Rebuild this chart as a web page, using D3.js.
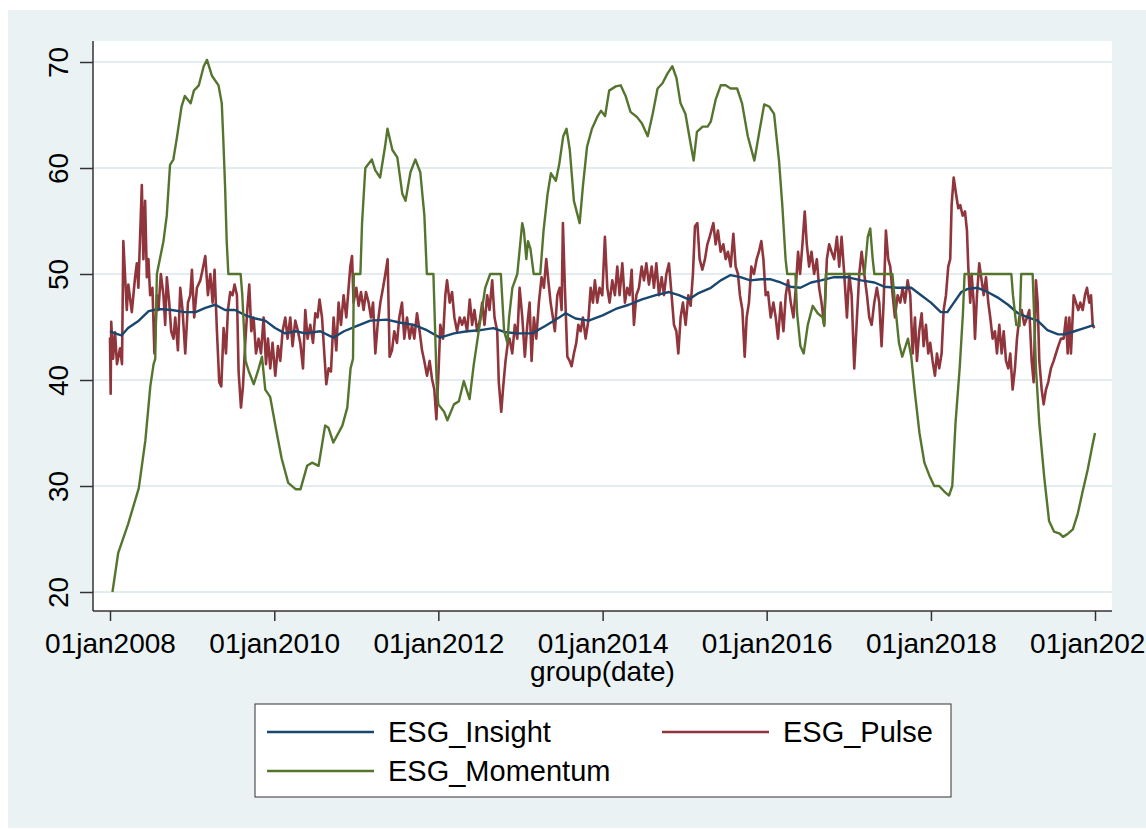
<!DOCTYPE html>
<html>
<head>
<meta charset="utf-8">
<script src="https://cdn.jsdelivr.net/npm/d3@7"></script>
<style>
  body { margin: 0; background: #ffffff; }
  text { font-family: 'Liberation Sans', Arial, sans-serif; fill: #000; }
</style>
</head>
<body>
<div id="chart"></div>
<script>
// values: [decimal year, value]
const insight = [
  [2008.00, 44.6], [2008.06, 44.4], [2008.14, 44.2], [2008.22, 44.9], [2008.35, 45.6], [2008.47, 46.5],
  [2008.59, 46.7], [2008.75, 46.6], [2008.91, 46.4], [2009.04, 46.4], [2009.16, 46.8], [2009.28, 47.1],
  [2009.40, 46.6], [2009.52, 46.6], [2009.65, 46.1], [2009.77, 45.8], [2009.89, 45.6], [2010.01, 44.9],
  [2010.13, 44.4], [2010.26, 44.6], [2010.38, 44.4], [2010.56, 44.6], [2010.72, 44.0], [2010.85, 44.6],
  [2011.01, 45.1], [2011.17, 45.6], [2011.37, 45.7], [2011.54, 45.4], [2011.70, 45.2], [2011.86, 44.7],
  [2012.02, 44.0], [2012.19, 44.4], [2012.35, 44.6], [2012.51, 44.7], [2012.67, 44.9], [2012.82, 44.5],
  [2012.98, 44.4], [2013.14, 44.4], [2013.30, 45.1], [2013.47, 45.9], [2013.55, 46.3], [2013.67, 45.8],
  [2013.83, 45.6], [2014.00, 46.1], [2014.16, 46.7], [2014.32, 47.1], [2014.48, 47.6], [2014.65, 48.0],
  [2014.81, 48.3], [2014.93, 48.0], [2015.05, 47.6], [2015.17, 48.2], [2015.32, 48.7], [2015.44, 49.4],
  [2015.56, 49.9], [2015.68, 49.7], [2015.80, 49.4], [2015.93, 49.5], [2016.05, 49.5], [2016.17, 49.2],
  [2016.29, 48.8], [2016.41, 48.7], [2016.54, 49.2], [2016.66, 49.4], [2016.82, 49.7], [2016.98, 49.7],
  [2017.15, 49.4], [2017.31, 49.2], [2017.43, 48.8], [2017.59, 48.7], [2017.76, 48.7], [2017.88, 48.0],
  [2018.00, 47.3], [2018.12, 46.4], [2018.20, 46.4], [2018.28, 47.3], [2018.37, 48.3], [2018.45, 48.6],
  [2018.57, 48.7], [2018.69, 48.3], [2018.81, 47.8], [2018.94, 47.1], [2019.06, 46.3], [2019.18, 45.9],
  [2019.30, 45.6], [2019.42, 44.7], [2019.55, 44.3], [2019.63, 44.3], [2019.75, 44.6], [2019.87, 44.9],
  [2019.99, 45.2]
];

const pulse = [
  [2008.000, 44], [2008.008, 38.7], [2008.015, 45.5], [2008.037, 42], [2008.061, 44.5], [2008.085, 41.5],
  [2008.122, 43], [2008.146, 41.5], [2008.162, 53.1], [2008.204, 46.6], [2008.223, 49], [2008.265, 46.4],
  [2008.305, 49.7], [2008.326, 51], [2008.345, 48.7], [2008.387, 58.4], [2008.406, 51.4], [2008.427, 56.9],
  [2008.448, 49.7], [2008.467, 51.4], [2008.488, 48], [2008.516, 48.7], [2008.540, 42.5], [2008.570, 48],
  [2008.589, 46.6], [2008.618, 50], [2008.650, 48], [2008.671, 45.2], [2008.691, 49.7], [2008.720, 47.3],
  [2008.744, 44.6], [2008.772, 43.9], [2008.793, 45.9], [2008.826, 42.8], [2008.854, 48.7], [2008.882, 46.6],
  [2008.915, 42.5], [2008.948, 47.3], [2008.976, 48], [2008.996, 50.4], [2009.024, 45.9], [2009.057, 48.7],
  [2009.098, 49.4], [2009.126, 50.4], [2009.159, 51.7], [2009.191, 48], [2009.220, 50], [2009.248, 47.3],
  [2009.272, 50.4], [2009.301, 44.6], [2009.329, 39.8], [2009.354, 39.4], [2009.382, 44.9], [2009.411, 42.5],
  [2009.435, 46.6], [2009.463, 48.3], [2009.491, 48], [2009.516, 49], [2009.545, 48], [2009.565, 40.8],
  [2009.594, 37.4], [2009.618, 39.4], [2009.646, 43.5], [2009.671, 46.6], [2009.695, 49], [2009.720, 44.6],
  [2009.748, 45.9], [2009.777, 42.5], [2009.809, 43.9], [2009.838, 42.5], [2009.870, 45.9], [2009.899, 41.5],
  [2009.923, 43.9], [2009.951, 41.1], [2009.979, 43.5], [2010.012, 40.4], [2010.045, 43.2], [2010.073, 41.8],
  [2010.101, 44.6], [2010.134, 45.9], [2010.162, 43.9], [2010.195, 45.9], [2010.223, 43.2], [2010.256, 45.6],
  [2010.289, 44.6], [2010.317, 43.5], [2010.350, 41.1], [2010.378, 46.6], [2010.406, 43.9], [2010.439, 45.2],
  [2010.472, 43.5], [2010.500, 46.3], [2010.528, 45.9], [2010.552, 47.6], [2010.582, 45.9], [2010.610, 42.5],
  [2010.634, 39.6], [2010.662, 41.1], [2010.691, 40.8], [2010.723, 45.9], [2010.756, 42.8], [2010.784, 47.3],
  [2010.813, 45.2], [2010.845, 48], [2010.878, 45.9], [2010.906, 48.7], [2010.927, 50.7], [2010.948, 51.7],
  [2010.967, 47.3], [2011.000, 48.7], [2011.028, 47], [2011.057, 48.3], [2011.089, 46.6], [2011.118, 48.3],
  [2011.150, 47.3], [2011.179, 45.9], [2011.204, 47.3], [2011.232, 42.5], [2011.260, 45.2], [2011.293, 47.3],
  [2011.326, 48.7], [2011.354, 50], [2011.382, 51.4], [2011.406, 42.2], [2011.435, 42.8], [2011.463, 44.6],
  [2011.496, 43.5], [2011.524, 45.9], [2011.557, 47.3], [2011.585, 43.9], [2011.618, 45.9], [2011.650, 43.9],
  [2011.679, 45.2], [2011.707, 43.9], [2011.740, 46.3], [2011.772, 44.6], [2011.801, 42.8], [2011.829, 41.8],
  [2011.862, 40.4], [2011.894, 41.8], [2011.923, 40.1], [2011.951, 39.1], [2011.976, 36.3], [2012.004, 41.1],
  [2012.024, 45.2], [2012.057, 43.9], [2012.085, 48], [2012.106, 49.4], [2012.138, 47.3], [2012.167, 48.3],
  [2012.195, 45.9], [2012.228, 44.6], [2012.260, 45.9], [2012.289, 45.2], [2012.317, 45.9], [2012.350, 44.6],
  [2012.382, 47.6], [2012.411, 45.2], [2012.439, 46.6], [2012.472, 44.6], [2012.504, 45.6], [2012.533, 47.3],
  [2012.561, 45.2], [2012.594, 48], [2012.622, 46.6], [2012.655, 49.4], [2012.683, 45.9], [2012.716, 44.6],
  [2012.735, 39.8], [2012.765, 37], [2012.789, 39.4], [2012.817, 41.8], [2012.845, 43.5], [2012.866, 43.9],
  [2012.899, 42.5], [2012.930, 45.2], [2012.960, 43.9], [2012.988, 48.7], [2013.021, 45.9], [2013.052, 42.2],
  [2013.082, 45.2], [2013.110, 47.3], [2013.134, 41.8], [2013.162, 45.9], [2013.191, 43.9], [2013.223, 47.3],
  [2013.256, 49.7], [2013.284, 48.7], [2013.313, 51.4], [2013.338, 49.4], [2013.366, 47.3], [2013.394, 45.9],
  [2013.418, 44.6], [2013.448, 48], [2013.476, 48.7], [2013.500, 46.6], [2013.516, 54.8], [2013.540, 48.7],
  [2013.570, 42.2], [2013.598, 41.8], [2013.622, 41.3], [2013.650, 42.5], [2013.679, 43.5], [2013.704, 45.2],
  [2013.732, 44.6], [2013.760, 45.9], [2013.793, 43.9], [2013.826, 45.6], [2013.854, 48.7], [2013.882, 47.3],
  [2013.906, 49.4], [2013.935, 47.3], [2013.963, 48.7], [2013.996, 48], [2014.028, 53.5], [2014.057, 48.7],
  [2014.085, 47.3], [2014.118, 49.4], [2014.150, 48], [2014.179, 50.7], [2014.207, 48], [2014.240, 51],
  [2014.272, 47.3], [2014.301, 48.7], [2014.329, 48], [2014.354, 50.4], [2014.382, 45.2], [2014.411, 48],
  [2014.443, 48.7], [2014.476, 50.7], [2014.504, 49.4], [2014.533, 51], [2014.565, 49], [2014.598, 50.7],
  [2014.626, 48.7], [2014.655, 51], [2014.687, 48], [2014.720, 49.7], [2014.748, 48], [2014.777, 50],
  [2014.809, 51], [2014.841, 48], [2014.870, 45.2], [2014.899, 44.6], [2014.923, 42.5], [2014.951, 45.9],
  [2014.979, 47.3], [2015.012, 45.2], [2015.045, 48], [2015.073, 47], [2015.101, 50], [2015.126, 54.5],
  [2015.155, 54.8], [2015.183, 51.4], [2015.216, 50.4], [2015.248, 51.4], [2015.277, 52.8], [2015.305, 53.5],
  [2015.350, 54.8], [2015.378, 52.8], [2015.406, 54.1], [2015.439, 52.1], [2015.472, 52.8], [2015.500, 51.4],
  [2015.528, 52.1], [2015.561, 50.7], [2015.594, 53.8], [2015.622, 50.7], [2015.650, 50], [2015.674, 48],
  [2015.704, 46.6], [2015.732, 42.2], [2015.756, 45.9], [2015.784, 47.3], [2015.813, 50.7], [2015.845, 50],
  [2015.878, 51.4], [2015.906, 52.1], [2015.935, 53.1], [2015.960, 51.4], [2015.988, 48], [2016.016, 48.3],
  [2016.049, 45.9], [2016.082, 47.3], [2016.110, 45.9], [2016.138, 43.9], [2016.171, 47.3], [2016.204, 44.6],
  [2016.232, 48], [2016.260, 49.4], [2016.293, 47.3], [2016.326, 45.9], [2016.354, 48.7], [2016.382, 52.1],
  [2016.406, 50], [2016.435, 52.8], [2016.463, 55.9], [2016.488, 52.8], [2016.516, 50.7], [2016.545, 52.1],
  [2016.577, 50], [2016.610, 51.4], [2016.638, 48.7], [2016.667, 47.3], [2016.699, 45.2], [2016.732, 51.4],
  [2016.760, 52.8], [2016.789, 52.1], [2016.821, 51.4], [2016.854, 53.5], [2016.882, 50.7], [2016.911, 53.5],
  [2016.943, 50], [2016.976, 45.9], [2017.004, 50], [2017.033, 48], [2017.065, 41.1], [2017.098, 45.9],
  [2017.126, 50], [2017.155, 52.1], [2017.187, 50], [2017.220, 48], [2017.248, 45.9], [2017.277, 45.2],
  [2017.309, 47.3], [2017.341, 48.7], [2017.370, 47.3], [2017.398, 43.2], [2017.423, 47.3], [2017.451, 54.1],
  [2017.479, 51.4], [2017.504, 50.7], [2017.533, 48], [2017.561, 45.9], [2017.594, 48], [2017.626, 47.3],
  [2017.655, 48.7], [2017.683, 47.3], [2017.716, 49.4], [2017.748, 48], [2017.777, 42.5], [2017.805, 45.9],
  [2017.829, 41.8], [2017.857, 44.6], [2017.887, 46.3], [2017.911, 43.2], [2017.939, 45.2], [2017.967, 42.5],
  [2017.991, 43.5], [2018.020, 41.8], [2018.049, 40.4], [2018.073, 42.5], [2018.101, 41.1], [2018.130, 42.5],
  [2018.155, 46.6], [2018.183, 48], [2018.211, 50.7], [2018.235, 51.4], [2018.252, 56.5], [2018.277, 59.1],
  [2018.305, 57.6], [2018.333, 56.2], [2018.357, 56.5], [2018.387, 55.5], [2018.415, 55.9], [2018.439, 54.1],
  [2018.455, 50.7], [2018.479, 47.3], [2018.496, 50], [2018.521, 47.3], [2018.537, 43.9], [2018.561, 48],
  [2018.589, 51], [2018.618, 49.4], [2018.643, 48], [2018.671, 49.7], [2018.699, 47.3], [2018.723, 45.9],
  [2018.752, 43.9], [2018.780, 44.6], [2018.805, 42.5], [2018.833, 45.2], [2018.862, 42.5], [2018.887, 44.6],
  [2018.915, 41.8], [2018.943, 41.1], [2018.967, 42.5], [2018.996, 39.1], [2019.024, 41.1], [2019.049, 43.9],
  [2019.077, 45.9], [2019.106, 46.6], [2019.138, 45.2], [2019.171, 45.9], [2019.199, 46.6], [2019.228, 41.8],
  [2019.252, 39.8], [2019.280, 49.4], [2019.301, 47.3], [2019.321, 41.8], [2019.350, 39.1], [2019.374, 37.7],
  [2019.402, 39.1], [2019.430, 39.8], [2019.463, 41.1], [2019.496, 41.8], [2019.524, 42.5], [2019.552, 43.2],
  [2019.585, 43.9], [2019.618, 43.9], [2019.646, 45.9], [2019.667, 42.5], [2019.687, 45.9], [2019.707, 42.5],
  [2019.740, 48], [2019.768, 47.3], [2019.796, 46.6], [2019.821, 47.3], [2019.850, 46.6], [2019.878, 48],
  [2019.902, 48.7], [2019.930, 47.3], [2019.951, 48], [2019.972, 45.2], [2019.991, 44.9]
];

const momentum = [
  [2008.03, 20], [2008.10, 23.7], [2008.22, 26.4], [2008.35, 29.8], [2008.43, 34.3], [2008.49, 39.4],
  [2008.53, 41.5], [2008.55, 42], [2008.57, 50], [2008.65, 53.1], [2008.69, 55.5], [2008.73, 60.3],
  [2008.77, 60.8], [2008.81, 62.7], [2008.87, 65.8], [2008.91, 66.8], [2008.98, 66.1], [2009.02, 67.3],
  [2009.08, 67.8], [2009.14, 69.6], [2009.18, 70.2], [2009.24, 68.7], [2009.32, 67.8], [2009.36, 66.1],
  [2009.38, 62.4], [2009.40, 58.3], [2009.42, 53.1], [2009.44, 50], [2009.59, 50], [2009.61, 48],
  [2009.65, 41.8], [2009.69, 40.8], [2009.75, 39.6], [2009.81, 41.1], [2009.85, 42.2], [2009.89, 39.1],
  [2009.95, 38.4], [2010.03, 35], [2010.09, 32.6], [2010.17, 30.3], [2010.26, 29.7], [2010.32, 29.7],
  [2010.40, 31.9], [2010.46, 32.2], [2010.54, 31.9], [2010.62, 35.7], [2010.66, 35.5], [2010.72, 34.1],
  [2010.83, 35.7], [2010.89, 37.4], [2010.93, 41.1], [2010.96, 42], [2010.97, 50], [2011.05, 50],
  [2011.07, 54.8], [2011.11, 60], [2011.19, 60.8], [2011.23, 59.8], [2011.29, 59.1], [2011.35, 62],
  [2011.38, 63.7], [2011.44, 61.7], [2011.50, 61], [2011.56, 57.6], [2011.60, 56.9], [2011.66, 59.6],
  [2011.72, 60.8], [2011.78, 59.6], [2011.83, 55.5], [2011.86, 50], [2011.94, 50], [2011.98, 39.7],
  [2012.00, 37.7], [2012.07, 37], [2012.11, 36.2], [2012.19, 37.7], [2012.25, 38], [2012.31, 39.9],
  [2012.38, 38.2], [2012.43, 41.4], [2012.51, 45.6], [2012.57, 48.7], [2012.63, 50], [2012.76, 50],
  [2012.80, 44.6], [2012.84, 43.5], [2012.86, 45.9], [2012.90, 48.7], [2012.96, 50], [2013.02, 54.8],
  [2013.04, 54.1], [2013.07, 51.4], [2013.09, 53.1], [2013.12, 52.4], [2013.16, 50], [2013.24, 50],
  [2013.28, 54.1], [2013.33, 57.6], [2013.37, 59.5], [2013.43, 58.8], [2013.47, 60.3], [2013.52, 63],
  [2013.56, 63.7], [2013.60, 61.7], [2013.65, 56.9], [2013.72, 54.8], [2013.76, 58.3], [2013.81, 62],
  [2013.87, 63.7], [2013.94, 64.9], [2013.98, 65.4], [2014.03, 64.9], [2014.08, 67.3], [2014.16, 67.7],
  [2014.22, 67.8], [2014.28, 66.8], [2014.34, 65.3], [2014.42, 64.8], [2014.48, 64.2], [2014.55, 63],
  [2014.61, 65.1], [2014.67, 67.5], [2014.73, 68], [2014.79, 68.9], [2014.85, 69.6], [2014.90, 68.5],
  [2014.95, 66.1], [2015.01, 65.1], [2015.07, 62.4], [2015.11, 60.7], [2015.15, 63.4], [2015.22, 63.9],
  [2015.28, 63.9], [2015.32, 64.4], [2015.38, 66.5], [2015.44, 67.8], [2015.50, 67.8], [2015.56, 67.5],
  [2015.64, 67.5], [2015.70, 66.1], [2015.77, 63], [2015.85, 60.7], [2015.91, 63.4], [2015.97, 66],
  [2016.03, 65.8], [2016.09, 65.1], [2016.15, 60.7], [2016.19, 56.5], [2016.23, 51.4], [2016.25, 50],
  [2016.35, 50], [2016.37, 46.3], [2016.41, 43.2], [2016.45, 42.5], [2016.50, 45.2], [2016.56, 47],
  [2016.62, 46.3], [2016.68, 45.9], [2016.70, 45.1], [2016.72, 50], [2017.19, 50], [2017.23, 53.5],
  [2017.26, 54.3], [2017.29, 51.4], [2017.31, 50], [2017.53, 50], [2017.57, 46.6], [2017.61, 43.5],
  [2017.65, 42.2], [2017.72, 43.9], [2017.76, 42.2], [2017.80, 39.1], [2017.86, 35], [2017.92, 32.2],
  [2017.98, 31], [2018.04, 30], [2018.10, 30], [2018.16, 29.5], [2018.22, 29.1], [2018.26, 30],
  [2018.30, 36], [2018.35, 41.1], [2018.39, 46.3], [2018.41, 50], [2018.98, 50], [2019.00, 48],
  [2019.04, 45.2], [2019.08, 45.1], [2019.10, 50], [2019.24, 50], [2019.28, 41.1], [2019.32, 36],
  [2019.38, 30.9], [2019.44, 26.7], [2019.50, 25.7], [2019.57, 25.5], [2019.61, 25.2], [2019.67, 25.5],
  [2019.73, 25.9], [2019.79, 27.4], [2019.85, 29.5], [2019.91, 31.5], [2019.97, 33.9], [2020.00, 35]
];

const seriesNames = ['ESG_Insight', 'ESG_Pulse', 'ESG_Momentum'];
const seriesColors = ['#1a476f', '#90353b', '#55752f'];
const yTicks = [20, 30, 40, 50, 60, 70];
const xTickYears = [2008, 2010, 2012, 2014, 2016, 2018, 2020];
const xTitle = 'group(date)';

/**
 *  Turns a decimal year (2012.5) into a UTC date.
 */
function yearToDate(year) {
  const whole = Math.floor(year);
  const start = Date.UTC(whole, 0, 1);
  const end = Date.UTC(whole + 1, 0, 1);
  return new Date(start + (year - whole) * (end - start));
}

function init() {
  const width = 1146;
  const height = 830;
  // Stata style: light blue graph region, white plot region
  const plot = { left: 93, right: 1112, top: 41, bottom: 611 };
  const inset = 17; // gap between plot edge and first / last tick
  const bgColor = '#eaf2f3';

  const svg = d3
    .select('#chart')
    .append('svg')
    .attr('width', width)
    .attr('height', height);

  svg
    .append('rect')
    .attr('x', 8)
    .attr('y', 10)
    .attr('width', width - 8)
    .attr('height', height - 12)
    .attr('fill', bgColor);

  svg
    .append('rect')
    .attr('x', plot.left)
    .attr('y', plot.top)
    .attr('width', plot.right - plot.left)
    .attr('height', plot.bottom - plot.top)
    .attr('fill', '#ffffff');

  const x = d3
    .scaleUtc()
    .domain([yearToDate(xTickYears[0]), yearToDate(xTickYears[xTickYears.length - 1])])
    .range([plot.left + inset, plot.right - inset]);

  const y = d3
    .scaleLinear()
    .domain([20, 70])
    .range([plot.bottom - 19, plot.top + 21]);

  // horizontal grid lines
  svg
    .append('g')
    .selectAll('line')
    .data(yTicks)
    .enter()
    .append('line')
    .attr('x1', plot.left)
    .attr('x2', plot.right)
    .attr('y1', (d) => y(d))
    .attr('y2', (d) => y(d))
    .attr('stroke', '#e3edef')
    .attr('stroke-width', 2);

  const line = d3
    .line()
    .x((d) => x(yearToDate(d[0])))
    .y((d) => y(d[1]));

  // draw order: pulse underneath, then insight, then momentum on top
  const drawOrder = [1, 0, 2];
  const strokeWidths = [2.4, 2.6, 2.4];
  const allSeries = [insight, pulse, momentum];
  drawOrder.forEach((i) => {
    svg
      .append('path')
      .datum(allSeries[i])
      .attr('fill', 'none')
      .attr('stroke', seriesColors[i])
      .attr('stroke-width', strokeWidths[i])
      .attr('stroke-linejoin', 'round')
      .attr('d', line);
  });

  // x axis
  const xAxis = d3
    .axisBottom(x)
    .tickValues(xTickYears.map(yearToDate))
    .tickFormat((d) => d3.utcFormat('%d%b%Y')(d).toLowerCase())
    .tickSize(10)
    .tickPadding(12);

  const gx = svg
    .append('g')
    .attr('transform', `translate(0,${plot.bottom})`)
    .call(xAxis);
  gx.select('.domain').remove();
  gx.selectAll('line').attr('stroke', '#333').attr('stroke-width', 1.5);
  gx.selectAll('text')
    .attr('font-size', 28)
    .attr('font-family', "'Liberation Sans', Arial, sans-serif")
    .attr('fill', '#000');

  // y axis with rotated labels
  const yAxis = d3.axisLeft(y).tickValues(yTicks).tickSize(13);
  const gy = svg
    .append('g')
    .attr('transform', `translate(${plot.left},0)`)
    .call(yAxis);
  gy.select('.domain').remove();
  gy.selectAll('line').attr('stroke', '#333').attr('stroke-width', 1.5);
  gy.selectAll('text')
    .attr('x', null)
    .attr('dy', null)
    .attr('transform', 'translate(-25,0) rotate(-90)')
    .attr('text-anchor', 'middle')
    .attr('font-size', 28)
    .attr('font-family', "'Liberation Sans', Arial, sans-serif")
    .attr('fill', '#000');

  // axis lines
  svg
    .append('line')
    .attr('x1', plot.left)
    .attr('x2', plot.left)
    .attr('y1', plot.top)
    .attr('y2', plot.bottom)
    .attr('stroke', '#333')
    .attr('stroke-width', 1.5);
  svg
    .append('line')
    .attr('x1', plot.left)
    .attr('x2', plot.right)
    .attr('y1', plot.bottom)
    .attr('y2', plot.bottom)
    .attr('stroke', '#333')
    .attr('stroke-width', 1.5);

  svg
    .append('text')
    .attr('x', (plot.left + plot.right) / 2)
    .attr('y', 681)
    .attr('text-anchor', 'middle')
    .attr('font-size', 28)
    .text(xTitle);

  // legend: two columns, filled row by row
  const legend = svg.append('g');
  legend
    .append('rect')
    .attr('x', 255)
    .attr('y', 704)
    .attr('width', 696)
    .attr('height', 93)
    .attr('fill', '#ffffff')
    .attr('stroke', '#333')
    .attr('stroke-width', 1);

  const colX = [267, 662];
  const rowY = [732, 771];
  seriesNames.forEach((name, i) => {
    const lx = colX[i % 2];
    const ly = rowY[Math.floor(i / 2)];
    legend
      .append('line')
      .attr('x1', lx)
      .attr('x2', lx + 107)
      .attr('y1', ly)
      .attr('y2', ly)
      .attr('stroke', seriesColors[i])
      .attr('stroke-width', 2.5);
    legend
      .append('text')
      .attr('x', lx + 121)
      .attr('y', ly + 10)
      .attr('font-size', 29)
      .text(name);
  });
}

init();
</script>
</body>
</html>
